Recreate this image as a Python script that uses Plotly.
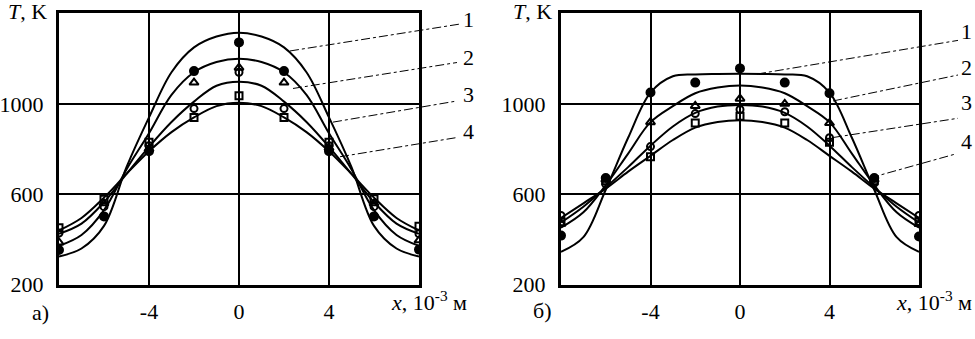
import plotly.graph_objects as go

W, H = 975, 339

# ---- data ----
x_pts = [-8, -6, -4, -2, 0, 2, 4, 6, 8]
x_curve = [-8, -7, -6, -5, -4, -3, -2, -1, 0, 1, 2, 3, 4, 5, 6, 7, 8]

# panel a) measured points
a_filled = [353, 502, 790, 1145, 1272, 1145, 790, 502, 355]
a_tri = [387, 560, 800, 1094, 1160, 1094, 805, 560, 396]
a_circ = [428, 545, 815, 979, 1140, 979, 815, 545, 425]
a_sq = [452, 578, 830, 940, 1036, 940, 830, 580, 458]

# panel a) curves 1-4
a_c1 = [325, 360, 460, 720, 940, 1140, 1250, 1298, 1315, 1298, 1250, 1140, 940, 720, 460, 360, 325]
a_c2 = [372, 420, 530, 710, 870, 1040, 1140, 1185, 1200, 1185, 1140, 1040, 870, 710, 530, 420, 372]
a_c3 = [425, 470, 565, 690, 810, 920, 1010, 1080, 1098, 1080, 1010, 920, 810, 690, 565, 470, 425]
a_c4 = [440, 495, 585, 690, 790, 875, 940, 990, 1005, 990, 940, 875, 790, 690, 585, 495, 440]

# panel b) measured points
b_filled = [417, 672, 1050, 1094, 1157, 1094, 1047, 672, 413]
b_tri = [470, 665, 919, 991, 1023, 1000, 915, 665, 468]
b_circ = [506, 645, 811, 957, 975, 965, 850, 650, 506]
b_sq = [478, 660, 766, 915, 945, 915, 830, 660, 481]

# panel b) curves 1-4
b_c1 = [345, 410, 620, 850, 1050, 1122, 1130, 1132, 1133, 1132, 1130, 1122, 1050, 850, 620, 410, 345]
b_c2 = [452, 520, 640, 780, 919, 990, 1047, 1072, 1081, 1072, 1047, 990, 919, 780, 640, 520, 452]
b_c3 = [475, 545, 630, 720, 815, 900, 960, 988, 995, 988, 960, 900, 815, 720, 630, 545, 475]
b_c4 = [495, 560, 625, 700, 770, 840, 895, 920, 928, 920, 895, 840, 770, 700, 625, 560, 495]

x_ticks = [-4, 0, 4]
y_ticks = [200, 600, 1000]
curve_labels = ["1", "2", "3", "4"]

FONT = "Liberation Serif"

fig = go.Figure()

def add_panel(xa, ya, curves, marks):
    for c in curves:
        fig.add_trace(go.Scatter(x=x_curve, y=c, mode="lines", xaxis=xa, yaxis=ya,
                                 line=dict(color="black", width=2, shape="spline", smoothing=1.0),
                                 showlegend=False, hoverinfo="skip"))
    filled, tri, circ, sq = marks
    styles = [
        (sq, "square-open", 7),
        (circ, "circle-open", 7),
        (tri, "triangle-up-open", 8),
        (filled, "circle", 8),
    ]
    for vals, sym, sz in styles:
        fig.add_trace(go.Scatter(x=x_pts, y=vals, mode="markers", xaxis=xa, yaxis=ya,
                                 marker=dict(symbol=sym, size=sz, color="black",
                                             line=dict(color="black", width=2)),
                                 showlegend=False, hoverinfo="skip"))

add_panel("x", "y", [a_c1, a_c2, a_c3, a_c4], [a_filled, a_tri, a_circ, a_sq])
add_panel("x2", "y2", [b_c1, b_c2, b_c3, b_c4], [b_filled, b_tri, b_circ, b_sq])

def px(v):
    return v / W

def py(v):
    return 1 - v / H

ydom = [py(296), py(14)]
xaxis_common = dict(range=[-8, 8], tickvals=x_ticks, ticktext=["-4", "0", "4"],
                    showgrid=True, gridcolor="black", gridwidth=2, zeroline=False,
                    showline=True, linecolor="black", linewidth=3, mirror=True,
                    ticks="", ticklabelstandoff=5,
                    tickfont=dict(family=FONT, size=22, color="black"))
yaxis_common = dict(range=[200, 1400], tickvals=y_ticks,
                    showgrid=True, gridcolor="black", gridwidth=2, zeroline=False,
                    showline=True, linecolor="black", linewidth=3, mirror=True,
                    ticks="", ticklabelstandoff=8,
                    tickfont=dict(family=FONT, size=22, color="black"),
                    domain=ydom)

fig.update_layout(
    width=W, height=H, margin=dict(l=0, r=0, t=0, b=0),
    paper_bgcolor="white", plot_bgcolor="white",
    xaxis=dict(xaxis_common, domain=[px(59), px(419)], anchor="y"),
    yaxis=dict(yaxis_common, anchor="x"),
    xaxis2=dict(xaxis_common, domain=[px(561), px(919)], anchor="y2"),
    yaxis2=dict(yaxis_common, anchor="x2"),
)

# leader lines (paper coordinates, pixel positions converted)
leaders = [
    ((290, 53), (460, 25)), ((293, 92), (457, 65)), ((333, 127), (457, 105)), ((340, 163), (457, 143)),
    ((757, 77), (958, 42)), ((833, 105), (958, 78)), ((833, 143), (958, 123)), ((870, 185), (956, 160)),
]
for (x0, y0), (x1, y1) in leaders:
    fig.add_shape(type="line", xref="paper", yref="paper",
                  x0=px(x0), y0=py(y0), x1=px(x1), y1=py(y1),
                  line=dict(color="black", width=1, dash="dashdot"))

label_pos = [(468, 20), (468, 60), (468, 98), (468, 137),
             (966, 33), (966, 70), (966, 107), (966, 147)]
for i, (lx, ly) in enumerate(label_pos):
    fig.add_annotation(x=px(lx), y=py(ly), xref="paper", yref="paper",
                       text=curve_labels[i % 4], showarrow=False,
                       font=dict(family=FONT, size=22, color="black"),
                       xanchor="center", yanchor="middle")

texts = [
    (27, 12, "<i>T</i>, K", "center"),
    (532, 12, "<i>T</i>, K", "center"),
    (469, 313, "<i>x</i>, 10<sup>-3</sup> м", "right"),
    (974, 313, "<i>x</i>, 10<sup>-3</sup> м", "right"),
    (40, 325, "а)", "center"),
    (542, 323, "б)", "center"),
]
for tx, ty, t, xa in texts:
    fig.add_annotation(x=px(tx), y=py(ty), xref="paper", yref="paper", text=t,
                       showarrow=False, xanchor=xa, yanchor="middle",
                       font=dict(family=FONT, size=22, color="black"))

fig.write_html("out.html", config={"displayModeBar": False},
               post_script="document.body.style.margin='0px';document.body.style.overflow='hidden';")
